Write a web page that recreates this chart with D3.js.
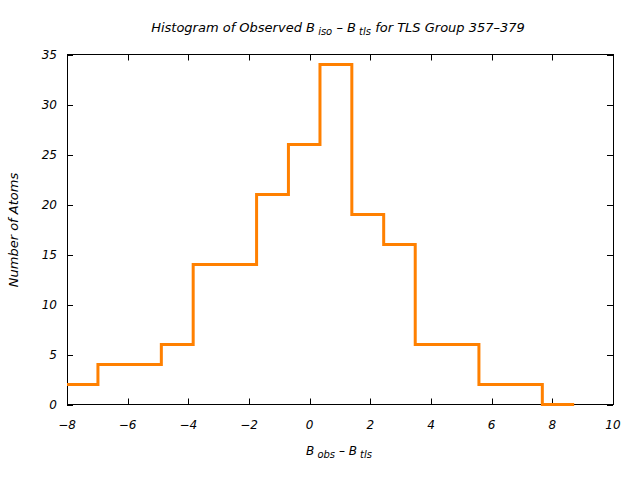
<!DOCTYPE html>
<html>
<head>
<meta charset="utf-8">
<script src="https://cdn.jsdelivr.net/npm/d3@7"></script>
<style>
  body { margin: 0; background: #fff; }
  text { font-family: "DejaVu Sans", sans-serif; font-style: italic; fill: #000; }
</style>
</head>
<body>
<div id="main"></div>
<script>
// histogram bin edges (left edges, plus final right edge) and counts
const binEdges = [-8.03, -6.98, -5.94, -4.89, -3.84, -2.80, -1.75, -0.70, 0.34, 1.39, 2.44, 3.48, 4.53, 5.58, 6.62, 7.67, 8.72];
const counts = [2, 4, 4, 6, 14, 14, 21, 26, 34, 19, 16, 6, 6, 2, 2, 0];
const xTicks = [-8, -6, -4, -2, 0, 2, 4, 6, 8, 10];
const yTicks = [0, 5, 10, 15, 20, 25, 30, 35];

const ctx = {
    w: 640,
    h: 480,
    left: 67,
    right: 613,
    top: 54.5,
    bottom: 404.5,
    color: "#ff8000",
};

function createViz(){
    const svg = d3.select("#main").append("svg")
        .attr("width", ctx.w)
        .attr("height", ctx.h);

    const x = d3.scaleLinear().domain([-8, 10]).range([ctx.left, ctx.right]);
    const y = d3.scaleLinear().domain([0, 35]).range([ctx.bottom, ctx.top]);

    // frame
    svg.append("rect")
       .attr("x", ctx.left + 0.5).attr("y", ctx.top)
       .attr("width", ctx.right - ctx.left).attr("height", ctx.bottom - ctx.top)
       .attr("fill", "none").attr("stroke", "#000").attr("stroke-width", 1);

    // ticks (inside, mirrored)
    const tk = svg.append("g").attr("stroke", "#000").attr("stroke-width", 1);
    xTicks.forEach(function(t){
        const px = Math.round(x(t)) + 0.5;
        tk.append("line").attr("x1", px).attr("x2", px).attr("y1", ctx.bottom).attr("y2", ctx.bottom - 6);
        tk.append("line").attr("x1", px).attr("x2", px).attr("y1", ctx.top).attr("y2", ctx.top + 6);
        svg.append("text").attr("x", x(t)).attr("y", ctx.bottom + 24)
           .attr("text-anchor", "middle").attr("font-size", 12)
           .text(String(t).replace("-", "\u2212"));
    });
    yTicks.forEach(function(t){
        const py = Math.round(y(t)) + 0.5;
        tk.append("line").attr("x1", ctx.left).attr("x2", ctx.left + 6).attr("y1", py).attr("y2", py);
        tk.append("line").attr("x1", ctx.right).attr("x2", ctx.right - 6).attr("y1", py).attr("y2", py);
        svg.append("text").attr("x", ctx.left - 10).attr("y", y(t) + 4)
           .attr("text-anchor", "end").attr("font-size", 12)
           .text(t);
    });

    // step line
    const pts = counts.map(function(c, i){ return [binEdges[i], c]; });
    pts.push([binEdges[binEdges.length - 1], counts[counts.length - 1]]);
    svg.append("defs").append("clipPath").attr("id", "clip")
       .append("rect").attr("x", ctx.left).attr("y", 0)
       .attr("width", ctx.right - ctx.left).attr("height", ctx.h);
    const line = d3.line()
        .x(function(d){ return x(d[0]); })
        .y(function(d){ return y(d[1]); })
        .curve(d3.curveStepAfter);
    svg.append("path").datum(pts)
       .attr("clip-path", "url(#clip)")
       .attr("d", line)
       .attr("fill", "none")
       .attr("stroke", ctx.color)
       .attr("stroke-width", 3);

    // title
    const title = svg.append("text").attr("x", 338).attr("y", 32)
        .attr("text-anchor", "middle").attr("font-size", 13);
    title.append("tspan").text("Histogram of Observed B");
    title.append("tspan").attr("font-size", 10).attr("dy", 3).text(" iso");
    title.append("tspan").attr("dy", -3).text("  \u2013 B");
    title.append("tspan").attr("font-size", 10).attr("dy", 3).text(" tls");
    title.append("tspan").attr("dy", -3).text("  for TLS Group 357\u2013379");

    // x label
    const xl = svg.append("text").attr("x", 339).attr("y", 455)
        .attr("text-anchor", "middle").attr("font-size", 12);
    xl.append("tspan").text("B");
    xl.append("tspan").attr("font-size", 10).attr("dy", 3).text(" obs");
    xl.append("tspan").attr("dy", -3).text("  \u2013 B");
    xl.append("tspan").attr("font-size", 10).attr("dy", 3).text(" tls");

    // y label
    svg.append("text")
       .attr("transform", "translate(18," + 230 + ") rotate(-90)")
       .attr("text-anchor", "middle").attr("font-size", 13)
       .text("Number of Atoms");
}

createViz();
</script>
</body>
</html>
